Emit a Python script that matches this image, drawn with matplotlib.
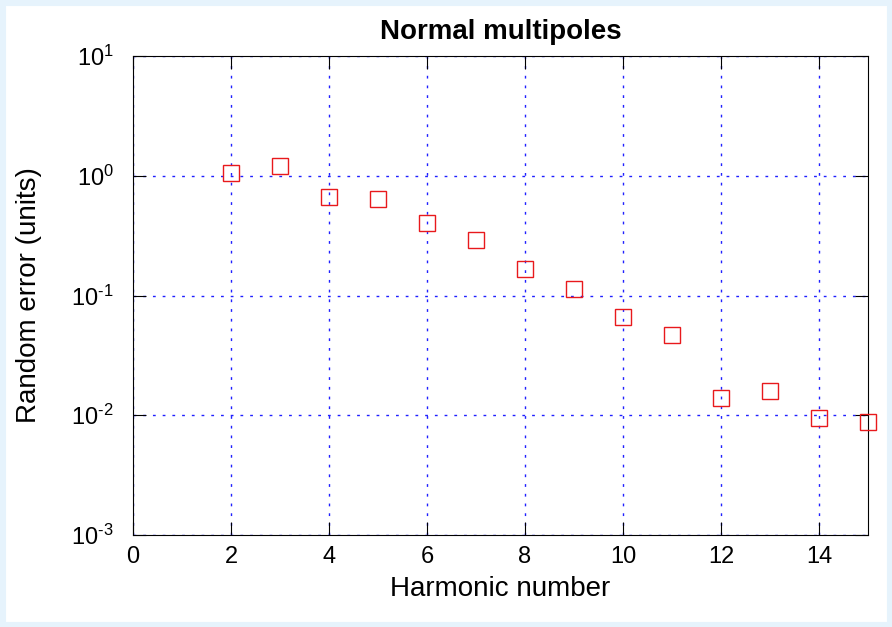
import numpy as np
import matplotlib.pyplot as plt
from matplotlib.patches import Rectangle
from matplotlib.ticker import FixedLocator, FuncFormatter, NullLocator

plt.rcParams['font.family'] = ['Liberation Sans', 'DejaVu Sans']
plt.rcParams['mathtext.fontset'] = 'custom'
plt.rcParams['mathtext.rm'] = 'Liberation Sans'
plt.rcParams['axes.unicode_minus'] = False

# harmonic number vs random error (units)
harmonic = [2, 3, 4, 5, 6, 7, 8, 9, 10, 11, 12, 13, 14, 15]
rand_err = [1.05, 1.20, 0.664, 0.639, 0.405, 0.290, 0.167, 0.114,
            0.0665, 0.047, 0.0139, 0.0158, 0.0095, 0.0088]
xticks = [0, 2, 4, 6, 8, 10, 12, 14]
yticks = [1e-3, 1e-2, 1e-1, 1e0, 1e1]


def exp_label(v, pos):
    e = int(round(np.log10(v)))
    s = str(abs(e)) if e >= 0 else '\u2010' + str(abs(e))
    return r'$\mathregular{10^{%s}}$' % s


fig = plt.figure(figsize=(8.92, 6.27), dpi=100)
fig.patch.set_facecolor('white')
# light blue frame round the picture
fig.patches.append(Rectangle((0, 0), 1, 1, transform=fig.transFigure,
                             fill=False, edgecolor='#e6f3fc', lw=8, zorder=0))

ax = fig.add_axes([133/892, 1 - 535/627, 735/892, 479/627])
ax.set_yscale('log')
ax.plot(harmonic, rand_err, 's', ms=12, mfc='none', mec='#e8191c', mew=1.0,
        clip_on=False, zorder=5)

ax.set_xlim(0, 15)
ax.set_ylim(1e-3, 1e1)
ax.xaxis.set_major_locator(FixedLocator(xticks))
ax.yaxis.set_major_locator(FixedLocator(yticks))
ax.yaxis.set_minor_locator(NullLocator())
ax.yaxis.set_major_formatter(FuncFormatter(exp_label))

ax.tick_params(direction='in', length=9.5, width=0.8, top=True, right=True,
               labelsize=17, color='black', labelcolor='black',
               grid_color='#2020ff', grid_linestyle=(0, (2, 5)),
               grid_linewidth=1.0)
ax.tick_params(axis='x', pad=8)
ax.tick_params(axis='y', pad=14)
ax.grid(True)
for s in ax.spines.values():
    s.set_linewidth(0.8)

ax.set_title('Normal multipoles', fontsize=20, fontweight='bold', pad=12)
ax.set_xlabel('Harmonic number', fontsize=20, labelpad=6)
ax.set_ylabel('Random error (units)', fontsize=20, labelpad=21)

fig.savefig('out.png', dpi=100)
